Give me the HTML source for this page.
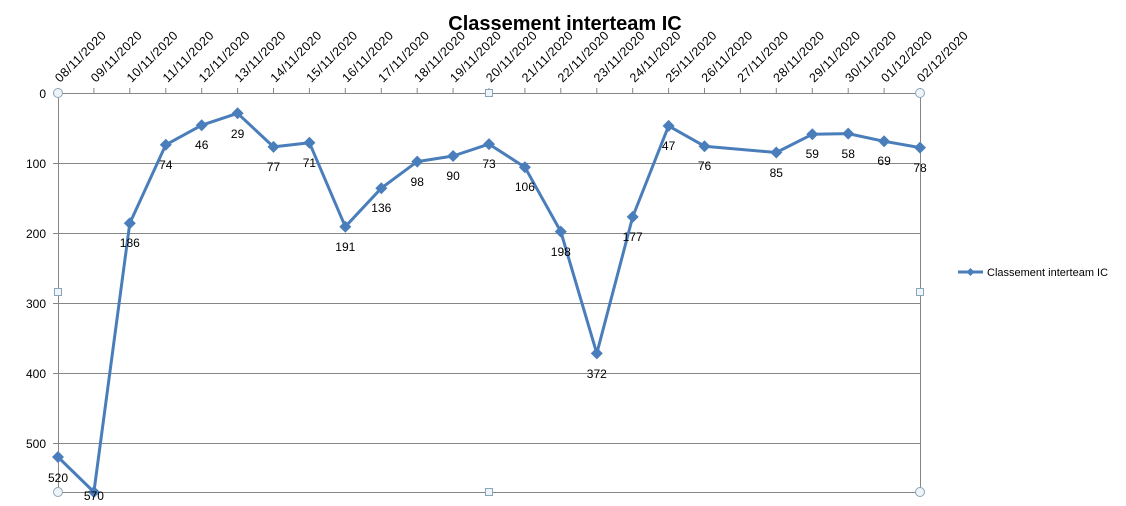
<!DOCTYPE html>
<html><head><meta charset="utf-8"><style>
html,body{margin:0;padding:0;background:#fff;}
svg text{font-family:"Liberation Sans",sans-serif;}
</style></head><body>
<svg width="1126" height="501" viewBox="0 0 1126 501" xmlns="http://www.w3.org/2000/svg">
<rect width="1126" height="501" fill="#fff"/>
<text x="565" y="30" font-size="20" font-weight="bold" text-anchor="middle" fill="#000">Classement interteam IC</text>
<g stroke="#868686" stroke-width="1">
<line x1="58" y1="163.5" x2="920" y2="163.5"/>
<line x1="58" y1="233.5" x2="920" y2="233.5"/>
<line x1="58" y1="303.5" x2="920" y2="303.5"/>
<line x1="58" y1="373.5" x2="920" y2="373.5"/>
<line x1="58" y1="443.5" x2="920" y2="443.5"/>
<line x1="53" y1="93.5" x2="920" y2="93.5"/>
<line x1="53" y1="163.5" x2="58" y2="163.5"/>
<line x1="53" y1="233.5" x2="58" y2="233.5"/>
<line x1="53" y1="303.5" x2="58" y2="303.5"/>
<line x1="53" y1="373.5" x2="58" y2="373.5"/>
<line x1="53" y1="443.5" x2="58" y2="443.5"/>
<line x1="58" y1="492.5" x2="920" y2="492.5"/>
<line x1="58.5" y1="88" x2="58.5" y2="492"/>
<line x1="920.5" y1="88" x2="920.5" y2="492"/>
<path d="M93.9 88v5M129.8 88v5M165.8 88v5M201.7 88v5M237.6 88v5M273.5 88v5M309.4 88v5M345.3 88v5M381.3 88v5M417.2 88v5M453.1 88v5M489 88v5M524.9 88v5M560.8 88v5M596.8 88v5M632.7 88v5M668.6 88v5M704.5 88v5M740.4 88v5M776.3 88v5M812.3 88v5M848.2 88v5M884.1 88v5"/>
</g>
<g font-size="12" fill="#000" text-anchor="end">
<text x="46" y="98">0</text>
<text x="46" y="168">100</text>
<text x="46" y="238">200</text>
<text x="46" y="308">300</text>
<text x="46" y="378">400</text>
<text x="46" y="448">500</text>
</g>
<g font-size="12.5" fill="#000" text-anchor="start">
<text transform="translate(60,83) rotate(-45)" textLength="66">08/11/2020</text>
<text transform="translate(95.9,83) rotate(-45)" textLength="66">09/11/2020</text>
<text transform="translate(131.8,83) rotate(-45)" textLength="66">10/11/2020</text>
<text transform="translate(167.8,83) rotate(-45)" textLength="66">11/11/2020</text>
<text transform="translate(203.7,83) rotate(-45)" textLength="66">12/11/2020</text>
<text transform="translate(239.6,83) rotate(-45)" textLength="66">13/11/2020</text>
<text transform="translate(275.5,83) rotate(-45)" textLength="66">14/11/2020</text>
<text transform="translate(311.4,83) rotate(-45)" textLength="66">15/11/2020</text>
<text transform="translate(347.3,83) rotate(-45)" textLength="66">16/11/2020</text>
<text transform="translate(383.3,83) rotate(-45)" textLength="66">17/11/2020</text>
<text transform="translate(419.2,83) rotate(-45)" textLength="66">18/11/2020</text>
<text transform="translate(455.1,83) rotate(-45)" textLength="66">19/11/2020</text>
<text transform="translate(491,83) rotate(-45)" textLength="66">20/11/2020</text>
<text transform="translate(526.9,83) rotate(-45)" textLength="66">21/11/2020</text>
<text transform="translate(562.8,83) rotate(-45)" textLength="66">22/11/2020</text>
<text transform="translate(598.8,83) rotate(-45)" textLength="66">23/11/2020</text>
<text transform="translate(634.7,83) rotate(-45)" textLength="66">24/11/2020</text>
<text transform="translate(670.6,83) rotate(-45)" textLength="66">25/11/2020</text>
<text transform="translate(706.5,83) rotate(-45)" textLength="66">26/11/2020</text>
<text transform="translate(742.4,83) rotate(-45)" textLength="66">27/11/2020</text>
<text transform="translate(778.3,83) rotate(-45)" textLength="66">28/11/2020</text>
<text transform="translate(814.3,83) rotate(-45)" textLength="66">29/11/2020</text>
<text transform="translate(850.2,83) rotate(-45)" textLength="66">30/11/2020</text>
<text transform="translate(886.1,83) rotate(-45)" textLength="66">01/12/2020</text>
<text transform="translate(922,83) rotate(-45)" textLength="66">02/12/2020</text>
</g>
<polyline fill="none" stroke="#4a7ebb" stroke-width="3" stroke-linejoin="round" points="58,457 93.9,492 129.8,223.2 165.8,144.8 201.7,125.2 237.6,113.3 273.5,146.9 309.4,142.7 345.3,226.7 381.3,188.2 417.2,161.6 453.1,156 489,144.1 524.9,167.2 560.8,231.6 596.8,353.4 632.7,216.9 668.6,125.9 704.5,146.2 776.3,152.5 812.3,134.3 848.2,133.6 884.1,141.3 920,147.6"/>
<g fill="#4a7ebb">
<path d="M58 451l6 6-6 6-6-6zM93.9 486l6 6-6 6-6-6zM129.8 217.2l6 6-6 6-6-6zM165.8 138.8l6 6-6 6-6-6zM201.7 119.2l6 6-6 6-6-6zM237.6 107.3l6 6-6 6-6-6zM273.5 140.9l6 6-6 6-6-6zM309.4 136.7l6 6-6 6-6-6zM345.3 220.7l6 6-6 6-6-6zM381.3 182.2l6 6-6 6-6-6zM417.2 155.6l6 6-6 6-6-6zM453.1 150l6 6-6 6-6-6zM489 138.1l6 6-6 6-6-6zM524.9 161.2l6 6-6 6-6-6zM560.8 225.6l6 6-6 6-6-6zM596.8 347.4l6 6-6 6-6-6zM632.7 210.9l6 6-6 6-6-6zM668.6 119.9l6 6-6 6-6-6zM704.5 140.2l6 6-6 6-6-6zM776.3 146.5l6 6-6 6-6-6zM812.3 128.3l6 6-6 6-6-6zM848.2 127.6l6 6-6 6-6-6zM884.1 135.3l6 6-6 6-6-6zM920 141.6l6 6-6 6-6-6z"/>
</g>
<g font-size="12" fill="#000" text-anchor="middle">
<text x="58" y="482">520</text>
<text x="93.9" y="500">570</text>
<text x="129.8" y="247">186</text>
<text x="165.8" y="169">74</text>
<text x="201.7" y="149">46</text>
<text x="237.6" y="138">29</text>
<text x="273.5" y="171">77</text>
<text x="309.4" y="167">71</text>
<text x="345.3" y="251">191</text>
<text x="381.3" y="212">136</text>
<text x="417.2" y="186">98</text>
<text x="453.1" y="180">90</text>
<text x="489" y="168">73</text>
<text x="524.9" y="191">106</text>
<text x="560.8" y="256">198</text>
<text x="596.8" y="378">372</text>
<text x="632.7" y="241">177</text>
<text x="668.6" y="150">47</text>
<text x="704.5" y="170">76</text>
<text x="776.3" y="177">85</text>
<text x="812.3" y="158">59</text>
<text x="848.2" y="158">58</text>
<text x="884.1" y="165">69</text>
<text x="920" y="172">78</text>
</g>
<g fill="#eef4f8" stroke="#8aa6ba" stroke-width="1">
<circle cx="58" cy="93" r="4.5"/><circle cx="920" cy="93" r="4.5"/>
<circle cx="58" cy="492" r="4.5"/><circle cx="920" cy="492" r="4.5"/>
<rect x="485.5" y="89.5" width="7" height="7"/><rect x="485.5" y="488.5" width="7" height="7"/>
<rect x="54.5" y="288.5" width="7" height="7"/><rect x="916.5" y="288.5" width="7" height="7"/>
</g>
<line x1="958" y1="272" x2="983" y2="272" stroke="#4a7ebb" stroke-width="3"/>
<path d="M970.5 268l4 4-4 4-4-4z" fill="#4a7ebb"/>
<text x="987" y="276" font-size="11" fill="#000">Classement interteam IC</text>
</svg>
</body></html>
